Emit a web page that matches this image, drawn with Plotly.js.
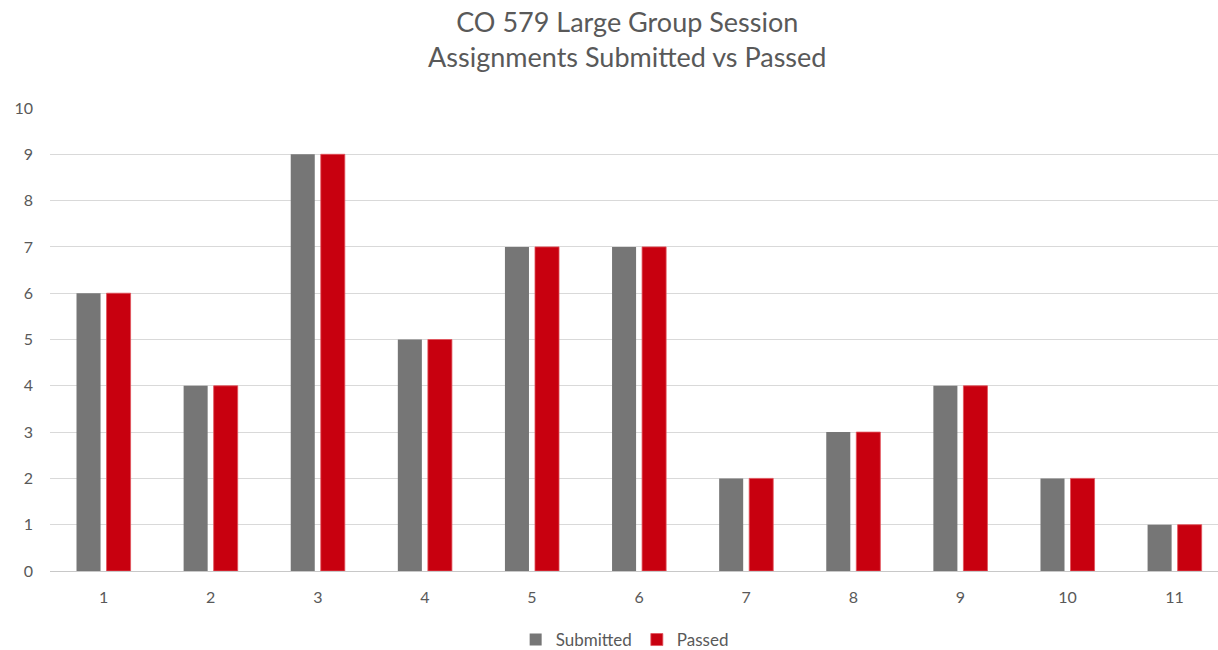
<!DOCTYPE html>
<html><head><meta charset="utf-8">
<script src="https://cdn.plot.ly/plotly-3.0.1.min.js"></script>
<style>body{margin:0;background:#fff}#c{width:1218px;height:650px}</style>
</head><body><div id="c"></div>
<script>
const categories = [1,2,3,4,5,6,7,8,9,10,11];
const submitted = [6,4,9,5,7,7,2,3,4,2,1];
const passed = [6,4,9,5,7,7,2,3,4,2,1];
const titleLines = ["CO 579 Large Group Session", "Assignments Submitted vs Passed"];
const fontFam = "Lato, 'Open Sans', sans-serif";
const data = [
  {type:'bar', name:'Submitted', x:categories, y:submitted, marker:{color:'#767676'}},
  {type:'bar', name:'Passed', x:categories, y:passed, marker:{color:'#c8000f', line:{color:'#e2535c', width:0.8}}}
];
const layout = {
  width:1218, height:650,
  margin:{l:49.5, r:0, t:108, b:79, autoexpand:false},
  paper_bgcolor:'#fff', plot_bgcolor:'#fff',
  font:{family:fontFam, color:'#595959', size:16},
  title:{text:titleLines.join('<br>'), x:0.515, xanchor:'center', yref:'container', y:0.951, yanchor:'middle', font:{size:27, color:'#595959', family:fontFam}},
  barmode:'group', bargap:0.439, bargroupgap:0.2,
  xaxis:{range:[0.5, 11.405], tickmode:'array', tickvals:categories, ticktext:categories.map(String), automargin:false,
    showgrid:false, zeroline:false, showline:false, ticks:'', ticklabelstandoff:15, tickfont:{size:16, color:'#595959'}},
  yaxis:{range:[0,10], dtick:1, showgrid:true, gridcolor:'#d9d9d9', gridwidth:1, zeroline:true, zerolinecolor:'#c8c8c8', zerolinewidth:1, automargin:false,
    ticks:'', ticklabelstandoff:16, tickfont:{size:16, color:'#595959'}},
  showlegend:true,
  legend:{orientation:'h', x:0.492, xanchor:'center', y:-0.149, yanchor:'middle', font:{size:17, color:'#595959'}, itemwidth:30, traceorder:'normal'}
};
Plotly.newPlot('c', data, layout, {displayModeBar:false});
</script></body></html>
